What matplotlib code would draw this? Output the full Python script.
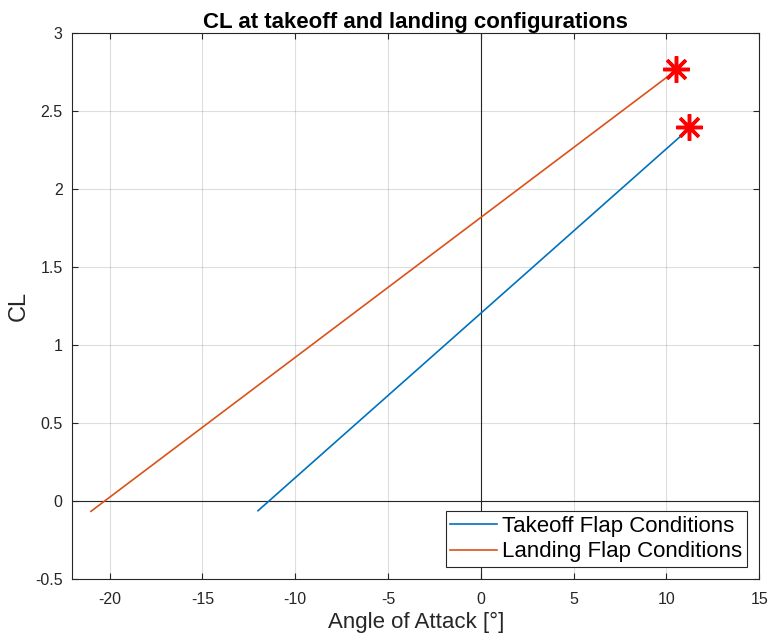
import matplotlib
matplotlib.use("Agg")
import matplotlib.pyplot as plt

plt.rcParams['font.family'] = ['Liberation Sans', 'DejaVu Sans']

# angle of attack [deg] and CL, end points of each linear curve
alpha_takeoff = [-12.0, 11.2]
cl_takeoff = [-0.062, 2.385]
alpha_landing = [-21.0, 10.5]
cl_landing = [-0.066, 2.76]

# stall points (max CL)
stall_alpha = [11.2, 10.5]
stall_cl = [2.395, 2.77]

xticks = [-20, -15, -10, -5, 0, 5, 10, 15]
yticks = [-0.5, 0, 0.5, 1, 1.5, 2, 2.5, 3]

fig = plt.figure(figsize=(7.7, 6.37), dpi=100)
ax = fig.add_axes([0.094, 0.091, 0.892, 0.857])

ax.plot(alpha_takeoff, cl_takeoff, color='#0072BD', lw=1.2, label='Takeoff Flap Conditions')
ax.plot(alpha_landing, cl_landing, color='#D95319', lw=1.2, label='Landing Flap Conditions')
ax.plot(stall_alpha, stall_cl, ls='none', marker=(8, 2, 0), ms=19, mew=2.5, color='red')

ax.axhline(0, color='#262626', lw=0.8, zorder=1)
ax.axvline(0, color='#262626', lw=0.8, zorder=1)

ax.set_xlim(-22, 15)
ax.set_ylim(-0.5, 3)
ax.set_xticks(xticks)
ax.set_yticks(yticks)
ax.set_xticklabels([str(t) for t in xticks])
ax.set_yticklabels([f"{t:g}" for t in yticks])
ax.grid(True, color='#262626', alpha=0.15, lw=0.8)
ax.set_axisbelow(True)
ax.tick_params(direction='in', top=True, right=True, labelsize=11.5, colors='#262626', length=4)
ax.tick_params(axis='x', pad=9)
ax.tick_params(axis='y', pad=7)
for s in ax.spines.values():
    s.set_color('#262626')
    s.set_linewidth(0.8)

ax.set_title('CL at takeoff and landing configurations', fontsize=16, fontweight='bold', pad=4)
ax.set_xlabel('Angle of Attack [°]', fontsize=16, color='#262626', labelpad=4)
ax.set_ylabel('CL', fontsize=17, color='#262626', labelpad=3.5)

leg = ax.legend(loc='lower right', fontsize=16, fancybox=False, edgecolor='#262626',
                framealpha=1, borderaxespad=0.55, handlelength=2.1, borderpad=0.2,
                labelspacing=0.2, handletextpad=0.25)
leg.get_frame().set_linewidth(0.8)

fig.savefig('out.png', dpi=100)
